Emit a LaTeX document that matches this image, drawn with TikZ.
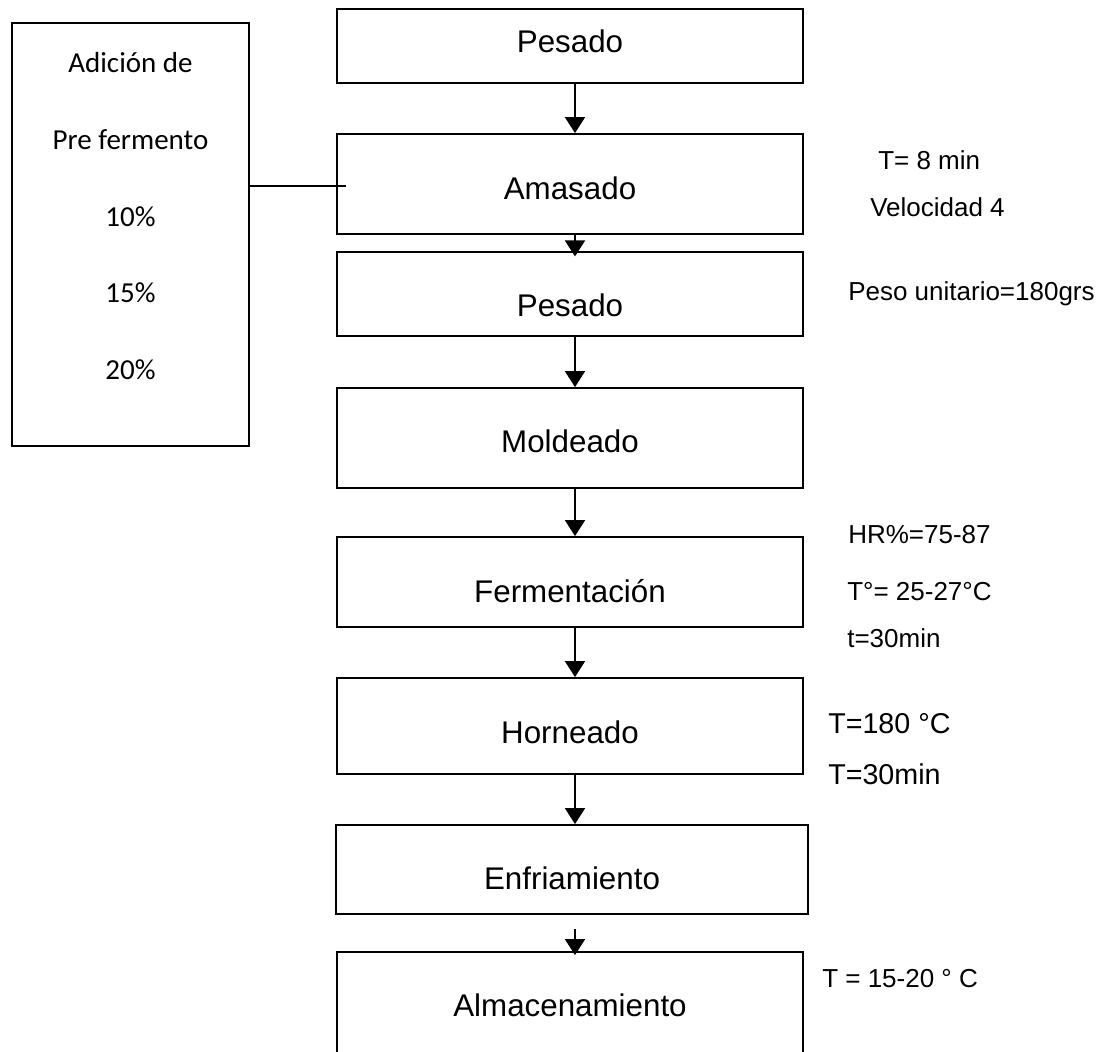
\documentclass[tikz,border=0pt]{standalone}
\usepackage{fontspec}
\setmainfont{Liberation Sans}
\newfontfamily\calibri{Carlito}
\usepackage{tikz}
\usetikzlibrary{arrows.meta}

\tikzset{
  etapa/.style={draw, line width=1.4pt, inner sep=0pt, minimum width=349.5pt,
    font=\fontsize{23.5}{28}\selectfont, text depth=0pt},
  caja/.style={draw, line width=1.4pt, inner sep=0pt},
  flecha/.style={line width=1.4pt, -{Triangle[length=12pt,width=15pt]}},
  linea/.style={line width=1.2pt},
  nota/.style={anchor=base west, inner sep=0pt, font=\fontsize{19.5}{23}\selectfont},
  notagrande/.style={nota, font=\fontsize{21.5}{25}\selectfont},
  porcentaje/.style={anchor=base, inner sep=0pt, font=\calibri\fontsize{21.75}{26}\selectfont}
}

\begin{document}
\begin{tikzpicture}[x=0.75pt, y=-0.75pt] % Elaboracion del pan

      \useasboundingbox (0,0) rectangle (1113,1051);
      \clip (0,0) rectangle (1113,1051);

      % etapas
      \node [etapa, minimum height=55.5pt, text height=10.4pt] (pesadoa) at (570,46) {Pesado};
      \node [etapa, minimum height=75pt, text height=22.8pt] (amasado) at (570,184) {Amasado};
      \node [etapa, minimum height=63pt, text height=33.3pt] (pesadob) at (570,294) {Pesado};
      \node [etapa, minimum height=75pt, text height=21.3pt] (moldeado) at (570,438) {Moldeado};
      \node [etapa, minimum height=67.5pt, text height=31.4pt] (fermentacion) at (570,582) {Fermentación};
      \node [etapa, minimum height=72pt, text height=26.6pt] (horneado) at (570,726) {Horneado};
      \node [etapa, minimum width=354pt, minimum height=66.75pt, text height=30.3pt] (enfriamiento) at (572,869.5) {Enfriamiento};
      \node [etapa, minimum height=81pt, text height=15.3pt] (almacenamiento) at (570,1006) {Almacenamiento};

      \draw [flecha] ([xshift=3.75pt]pesadoa.south) -- ([xshift=3.75pt]amasado.north);
      \draw [flecha, shorten >=-4pt] ([xshift=3.75pt]amasado.south) -- ([xshift=3.75pt]pesadob.north);
      \draw [flecha] ([xshift=3.75pt]pesadob.south) -- ([xshift=3.75pt]moldeado.north);
      \draw [flecha] ([xshift=3.75pt]moldeado.south) -- ([xshift=3.75pt]fermentacion.north);
      \draw [flecha] ([xshift=3.75pt]fermentacion.south) -- ([xshift=3.75pt]horneado.north);
      \draw [flecha] ([xshift=3.75pt]horneado.south) -- ([xshift=3.75pt]horneado.south |- enfriamiento.north);
      \draw [flecha, shorten >=-3pt] ([xshift=3.75pt, yshift=-10.5pt]horneado.south |- enfriamiento.south)
      -- ([xshift=3.75pt]horneado.south |- almacenamiento.north);

      % pre fermento
      \node [caja, minimum width=177.75pt, minimum height=317.25pt] (prefermento) at (130.5,234.5) {};
      \node [porcentaje] (adicion) at (130.5,72) {Adición de};
      \node [porcentaje] (pre) at (130.5,149) {Pre fermento};
      \node [porcentaje] (p10) at (130.5,226) {10\%};
      \node [porcentaje] (p15) at (130.5,302) {15\%};
      \node [porcentaje] (p20) at (130.5,379) {20\%};
      \coordinate (entrada) at ([xshift=7.5pt, yshift=-1.5pt]amasado.west);
      \draw [linea] (entrada -| prefermento.east) -- (entrada);

      % condiciones
      \node [nota] (tiempoa) at (878,169) {T= 8 min};
      \node [nota] (velocidad) at (870,216) {Velocidad 4};
      \node [nota] (peso) at (848,300) {Peso unitario=180grs};
      \node [nota] (humedad) at (848,543) {HR\%=75-87};
      \node [nota] (tempa) at (847,600) {T°= 25-27°C};
      \node [nota] (tiempob) at (847,647) {t=30min};
      \node [notagrande] (tempb) at (828,733) {T=180 °C};
      \node [notagrande] (tiempoc) at (828,784) {T=30min};
      \node [nota] (tempc) at (822,987) {T = 15-20 ° C};

    \end{tikzpicture}
\end{document}
